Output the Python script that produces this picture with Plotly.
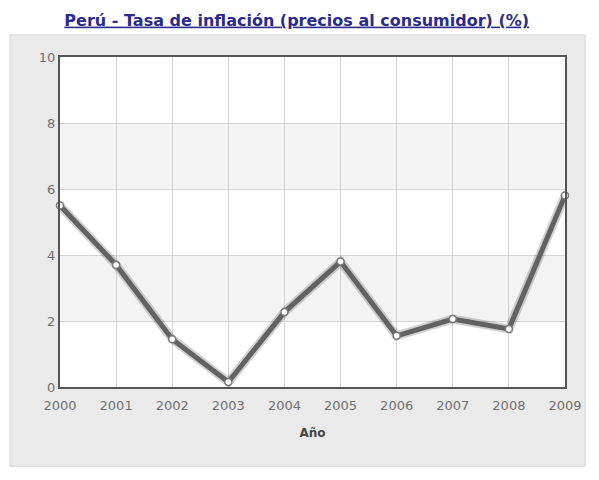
import plotly.graph_objects as go

# Peru - inflation rate (consumer prices)
years = [2000, 2001, 2002, 2003, 2004, 2005, 2006, 2007, 2008, 2009]
inflacion = [5.5, 3.7, 1.45, 0.15, 2.27, 3.8, 1.55, 2.06, 1.76, 5.8]
y_ticks = [0, 2, 4, 6, 8, 10]

fig = go.Figure()

# soft shadow under the line
fig.add_trace(go.Scatter(
    x=years, y=inflacion, mode="lines",
    line=dict(color="rgba(0,0,0,0.18)", width=9),
    hoverinfo="skip", cliponaxis=False))

fig.add_trace(go.Scatter(
    x=years, y=inflacion, mode="lines+markers",
    line=dict(color="#626262", width=5),
    marker=dict(size=7, color="white", line=dict(color="#777777", width=1.5)),
    cliponaxis=False))

shapes = [
    # grey panel behind the chart
    dict(type="rect", xref="paper", yref="paper",
         x0=-0.099, x1=1.04, y0=-0.24, y1=1.067,
         fillcolor="#eaeaea", line=dict(color="#d6d6d6", width=1),
         layer="below"),
    # white plot area on top of the panel
    dict(type="rect", xref="paper", yref="paper",
         x0=0, x1=1, y0=0, y1=1,
         fillcolor="white", line=dict(width=0), layer="below"),
]
# alternating bands
for lo in (2, 6):
    shapes.append(dict(type="rect", xref="paper", yref="y",
                       x0=0, x1=1, y0=lo, y1=lo + 2,
                       fillcolor="#f3f3f3", line=dict(width=0),
                       layer="below"))

fig.update_layout(
    width=599, height=480,
    margin=dict(l=52, r=42, t=49, b=101),
    paper_bgcolor="white",
    plot_bgcolor="white",
    showlegend=False,
    shapes=shapes,
    font=dict(family="DejaVu Sans", color="#707070", size=13),
    title=dict(
        text="<u><b>Perú - Tasa de inflación (precios al consumidor) (%)</b></u>",
        x=0.482, xanchor="center", y=0.975, yanchor="middle",
        font=dict(family="DejaVu Sans", size=16, color="#2b2b8c")),
)

fig.update_xaxes(
    range=[2000, 2009], tickvals=years, ticktext=[str(y) for y in years],
    showgrid=True, gridcolor="#d4d4d4", gridwidth=1,
    showline=True, linecolor="#555555", linewidth=2, mirror=True,
    ticks="", ticklabelstandoff=5,
    title=dict(text="<b>Año</b>", font=dict(size=12, color="#444444"), standoff=17),
    zeroline=False)

fig.update_yaxes(
    range=[0, 10], tickvals=y_ticks,
    showgrid=True, gridcolor="#d4d4d4", gridwidth=1,
    showline=True, linecolor="#555555", linewidth=2, mirror=True,
    ticks="", zeroline=False)

fig.write_html("out.html")
